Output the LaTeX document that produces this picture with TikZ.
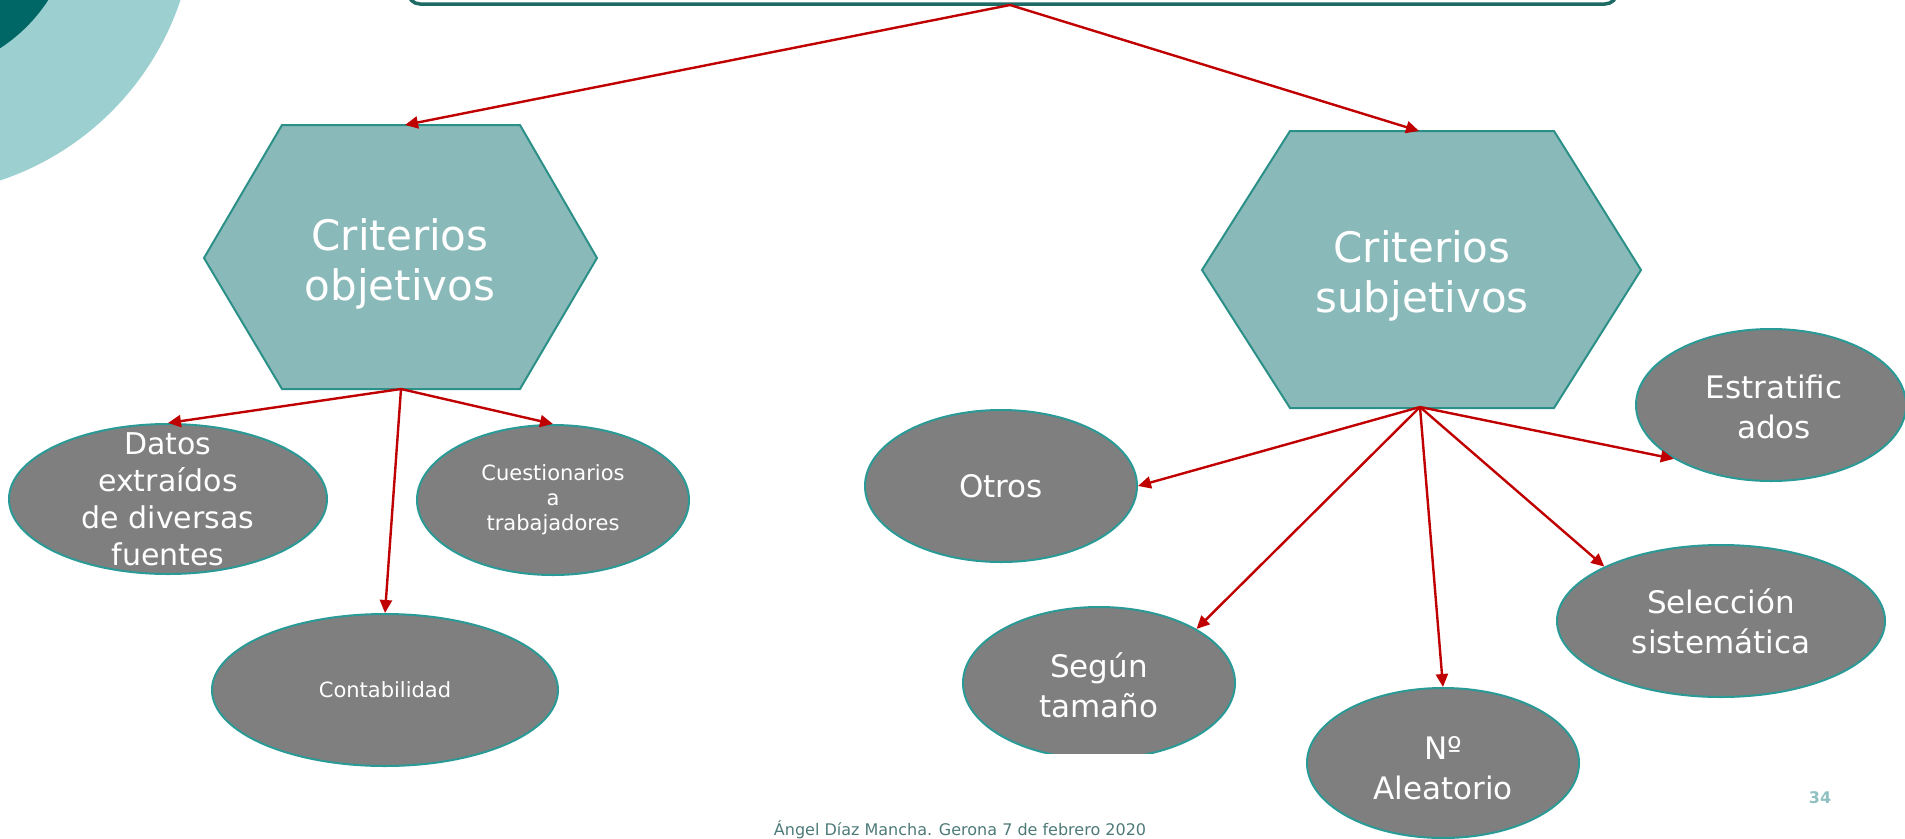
\documentclass[tikz,border=0pt]{standalone}
\usepackage{fontspec}
\setmainfont{DejaVu Sans}
\usetikzlibrary{shapes.geometric,arrows.meta}
\definecolor{ringlight}{HTML}{9CCFCF}
\definecolor{ringdark}{HTML}{006666}
\definecolor{topline}{HTML}{1E6B66}
\definecolor{hexfill}{HTML}{8AB9B9}
\definecolor{hexline}{HTML}{2A9088}
\definecolor{bubfill}{HTML}{7F7F7F}
\definecolor{bubline}{HTML}{2A9A96}
\definecolor{linkred}{HTML}{C00000}
\definecolor{footgray}{HTML}{4D7A78}
\definecolor{pagenum}{HTML}{8FC1C1}
\begin{document}
\begin{tikzpicture}[x=1pt,y=-1pt,
  hexbox/.style={draw=hexline, fill=hexfill, line width=2pt, line join=miter},
  hextext/.style={text=white, align=center, font=\fontsize{42}{50}\selectfont},
  bubble/.style={ellipse, draw=bubline, fill=bubfill, line width=2pt, inner sep=0pt},
  bubtext/.style={text=white, align=center, font=\fontsize{31}{40}\selectfont},
  smalltext/.style={text=white, align=center, font=\fontsize{21}{25}\selectfont},
  link/.style={draw=linkred, line width=2.4pt, -{Triangle[length=13pt,width=12pt]}},
]
\useasboundingbox (0,0) rectangle (1905,838);

% corner rings
\fill[ringlight] (-90,-90) circle[radius=285];
\fill[ringdark] (-90,-90) circle[radius=165];

% title box (upper part runs off the page)
\draw[topline, line width=3.5pt, fill=white, rounded corners=12pt] (408,-60) rectangle (1617,4);
\coordinate (root) at (1010,5);

% objective criteria
\draw[hexbox] (282,125) -- (520,125) -- (597,258) -- (520,389) -- (282,389) -- (204,258) -- cycle;
\coordinate (objtop) at (405,125);
\coordinate (objbot) at (401,389);
\node[hextext] (obj) at (400,264) {Criterios\\objetivos};

% subjective criteria
\draw[hexbox] (1290,131) -- (1554,131) -- (1641,270) -- (1554,408) -- (1290,408) -- (1202,270) -- cycle;
\coordinate (subjtop) at (1419,131);
\coordinate (subjbot) at (1420,407);
\node[hextext] (subj) at (1422,276) {Criterios\\subjetivos};

% leaves of the objective branch
\node[bubble, minimum width=318, minimum height=150] (datos) at (168,499) {};
\node[bubtext, font=\fontsize{30}{37}\selectfont] (datostxt) at (datos) {Datos\\extraídos\\de diversas\\fuentes};
\node[bubble, minimum width=272, minimum height=150] (cuest) at (553,500) {};
\node[smalltext] (cuesttxt) at (cuest) {Cuestionarios\\a\\trabajadores};
\node[bubble, minimum width=346, minimum height=152] (conta) at (385,690) {};
\node[smalltext] (contatxt) at (conta) {Contabilidad};

% leaves of the subjective branch
\node[bubble, minimum width=272, minimum height=152] (otros) at (1001,486) {};
\node[bubtext] (otrostxt) at (otros) {Otros};
\begin{scope}
  \clip (900,590) rectangle (1300,753);
  \node[bubble, minimum width=272, minimum height=152] (segun) at (1099,683) {};
\end{scope}
\node[bubtext] (seguntxt) at (1099,685) {Según\\tamaño};
\node[bubble, minimum width=272, minimum height=150] (aleat) at (1443,763) {};
\node[bubtext] (aleattxt) at (1443,768) {Nº\\Aleatorio};
\node[bubble, minimum width=328, minimum height=152] (selec) at (1721,621) {};
\node[bubtext] (selectxt) at (selec) {Selección\\sistemática};
\node[bubble, minimum width=270, minimum height=152] (estrat) at (1771,405) {};
\node[bubtext] (estrattxt) at (1774,407) {Estratific\\ados};

% connectors
\draw[link] (root) -- (objtop);
\draw[link] (root) -- (subjtop);
\draw[link] (objbot) -- (datos.north);
\draw[link] (objbot) -- (cuest.north);
\draw[link] (objbot) -- (conta.north);
\draw[link] (subjbot) -- (otros.east);
\draw[link] (subjbot) -- (segun.29);
\draw[link] (subjbot) -- (aleat.north);
\draw[link] (subjbot) -- (selec.155);
\draw[link] (subjbot) -- (estrat.209);

% footer
\node[anchor=base, text=footgray, font=\fontsize{16}{19}\selectfont] (foot) at (960,835) {Ángel Díaz Mancha. Gerona 7 de febrero 2020};
\node[text=pagenum, font=\bfseries\fontsize{16}{19}\selectfont] (page) at (1820,798) {34};
\end{tikzpicture}
\end{document}
